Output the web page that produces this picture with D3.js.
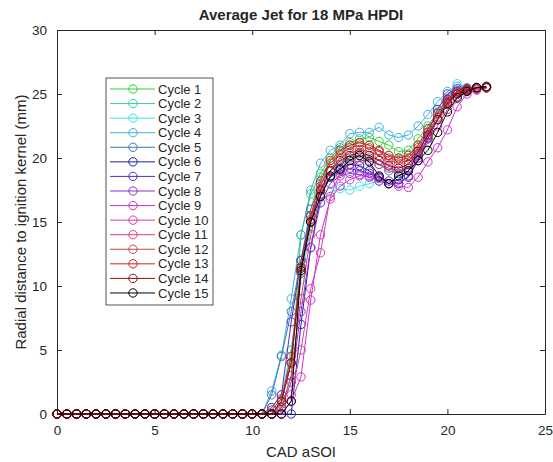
<!DOCTYPE html>
<html lang="en">
  <head>
    <meta charset="utf-8">
    <title>Average Jet for 18 MPa HPDI</title>
    <script src="https://d3js.org/d3.v7.min.js"></script>
    <style>
      body { margin: 0; background: #fff; }
      #chart text { font-family: "Liberation Sans", Arial, sans-serif; fill: #262626; }
    </style>
  </head>
  <body>
    <div id="chart"></div>
    <script>
      "use strict"
      // crank angle after start of injection (CAD aSOI)
      var cad = [0, 0.5, 1, 1.5, 2, 2.5, 3, 3.5, 4, 4.5, 5, 5.5, 6, 6.5, 7, 7.5, 8, 8.5, 9, 9.5,
                 10, 10.5, 11, 11.5, 12, 12.5, 13, 13.5, 14, 14.5, 15, 15.5, 16, 16.5, 17, 17.5,
                 18, 18.5, 19, 19.5, 20, 20.5, 21, 21.5, 22];

      // radial distance (mm) per cycle, one value per cad entry
      var cycle1  = [0,0,0,0,0,0,0,0,0,0,0,0,0,0,0,0,0,0,0,0,0, 0,0,0.5,3,14,17.2,18.8,20,20.8,21.2,21.5,21.6,21.3,21,20.5,20.6,21.5,22.5,23.6,24.6,25.2,25.3,25.4,25.5];
      var cycle2  = [0,0,0,0,0,0,0,0,0,0,0,0,0,0,0,0,0,0,0,0,0, 0,0,0.8,5,11,16,18.5,19.8,20.5,21,21.2,21,20.6,20.2,20,20.3,21,22.2,23.4,24.4,25,25.3,25.4,25.5];
      var cycle3  = [0,0,0,0,0,0,0,0,0,0,0,0,0,0,0,0,0,0,0,0,0, 0,0.5,1.5,5,10.5,14.5,16.5,17.3,17.6,17.5,17.8,18,18.2,18,18.3,19,20.5,22,23.5,24.8,25.8,25.5,25.4,25.5];
      var cycle4  = [0,0,0,0,0,0,0,0,0,0,0,0,0,0,0,0,0,0,0,0,0, 0,1.8,4.6,9,14,17.5,19.6,20.6,21,21.9,22,22,22.4,21.8,21.6,21.8,22.5,23.4,24.4,25.2,25.6,25.5,25.5,25.5];
      var cycle5  = [0,0,0,0,0,0,0,0,0,0,0,0,0,0,0,0,0,0,0,0,0, 0,1.5,4.5,8,12,16,18,19,19.5,20,20.2,20,19.5,19,18.8,19.2,20.2,21.6,23,24.3,25.1,25.4,25.5,25.5];
      var cycle6  = [0,0,0,0,0,0,0,0,0,0,0,0,0,0,0,0,0,0,0,0,0, 0,0,0,0,7,13,17,18.5,19.2,19.5,19.4,19,18.5,18,18,18.5,19.8,21.5,23,24.6,25.2,25.4,25.5,25.5];
      var cycle7  = [0,0,0,0,0,0,0,0,0,0,0,0,0,0,0,0,0,0,0,0,0, 0,0.5,1.5,7.2,12,15.5,17.5,18.5,19,19.2,19,18.8,18.5,18.2,18.3,19,20.3,22,23.8,25,25.4,25.4,25.5,25.5];
      var cycle8  = [0,0,0,0,0,0,0,0,0,0,0,0,0,0,0,0,0,0,0,0,0, 0,0,0.5,2.5,8,13,16.5,18,18.6,18.8,18.7,18.5,18.2,18,18,18.6,20,21.6,23,24.5,25.2,25.4,25.5,25.5];
      var cycle9  = [0,0,0,0,0,0,0,0,0,0,0,0,0,0,0,0,0,0,0,0,0, 0,0,0,1,2.9,8.9,14,16.8,17.8,18.3,18.6,18.6,18.4,18,17.8,17.7,18.5,19.7,20.8,22.2,24,25,25.3,25.5];
      var cycle10 = [0,0,0,0,0,0,0,0,0,0,0,0,0,0,0,0,0,0,0,0,0, 0,0,0.3,1.5,5,9.8,12.6,17,18.8,19.5,19.8,19.8,19.5,19.2,19,19.2,20,21.2,22.5,23.8,24.8,25.2,25.4,25.5];
      var cycle11 = [0,0,0,0,0,0,0,0,0,0,0,0,0,0,0,0,0,0,0,0,0, 0,0,0.5,3,9,14,17.2,19,20,20.4,20.6,20.5,20.2,19.8,19.6,19.8,20.6,21.8,23,24.2,25,25.3,25.4,25.5];
      var cycle12 = [0,0,0,0,0,0,0,0,0,0,0,0,0,0,0,0,0,0,0,0,0, 0,0,1,4,11,15.2,17.8,19.6,20.3,20.8,21,20.8,20.5,20,19.8,20,20.8,22,23.2,24.4,25.1,25.3,25.4,25.5];
      var cycle13 = [0,0,0,0,0,0,0,0,0,0,0,0,0,0,0,0,0,0,0,0,0, 0,0.3,1.2,4.5,11.5,15.5,18.2,19.8,20.6,21,21.2,21,20.6,20.2,20,20.2,21,22.3,23.5,24.6,25.2,25.4,25.5,25.5];
      var cycle14 = [0,0,0,0,0,0,0,0,0,0,0,0,0,0,0,0,0,0,0,0,0, 0,0,1,4,11.4,15,17.5,19,19.8,20.2,20.4,20.2,19.8,19.4,19.2,19.5,20.5,21.8,23,24.3,25,25.3,25.5,25.5];
      var cycle15 = [0,0,0,0,0,0,0,0,0,0,0,0,0,0,0,0,0,0,0,0,0, 0,0,0,1,11.2,15,17,18.6,19.1,19.8,20.2,19.7,18.6,18,18.6,19,19.8,20.6,22,23.6,24.7,25.2,25.5,25.6];

      var nomes = ["Cycle 1", "Cycle 2", "Cycle 3", "Cycle 4", "Cycle 5", "Cycle 6", "Cycle 7", "Cycle 8",
                   "Cycle 9", "Cycle 10", "Cycle 11", "Cycle 12", "Cycle 13", "Cycle 14", "Cycle 15"];
      var cores = ["#2fd12f", "#2fd69a", "#3fe3e3", "#3fb0e0", "#3f78b8", "#1f1fa8", "#5030c8", "#9030d0",
                   "#d030d0", "#d83ca8", "#d84078", "#c84848", "#d82020", "#8a1010", "#000000"];
      var ciclos = [cycle1, cycle2, cycle3, cycle4, cycle5, cycle6, cycle7, cycle8,
                    cycle9, cycle10, cycle11, cycle12, cycle13, cycle14, cycle15];
      var xTicks = [0, 5, 10, 15, 20, 25];
      var yTicks = [0, 5, 10, 15, 20, 25, 30];

      var larguraSVG = 553, alturaSVG = 462;
      var margin = {top: 30, right: 8, bottom: 48, left: 57},
          larguraVis = larguraSVG - margin.left - margin.right,
          alturaVis = alturaSVG - margin.top - margin.bottom;

      var svg = d3.select('#chart').append('svg')
          .attr('width', larguraSVG)
          .attr('height', alturaSVG);
      svg.append('rect').attr('width', larguraSVG).attr('height', alturaSVG).attr('fill', '#fff');

      var grafico = svg.append('g')
          .attr('transform', 'translate(' + margin.left + ',' + margin.top + ')');

      var x = d3.scaleLinear().domain([0, 25]).range([0, larguraVis]);
      var y = d3.scaleLinear().domain([0, 30]).range([alturaVis, 0]);

      // eixos (ticks para dentro, caixa fechada estilo matlab)
      function estilo(g) {
        g.select('.domain').attr('stroke', '#262626');
        g.selectAll('.tick line').attr('stroke', '#262626');
        g.selectAll('.tick text').style('font-size', '13.5px');
      }
      grafico.append('g')
          .attr('transform', 'translate(0,' + alturaVis + ')')
          .call(d3.axisBottom(x).tickValues(xTicks).tickSizeInner(-5).tickSizeOuter(0).tickPadding(11))
          .call(estilo);
      grafico.append('g')
          .call(d3.axisTop(x).tickValues(xTicks).tickSizeInner(-5).tickSizeOuter(0).tickFormat(''))
          .call(estilo);
      grafico.append('g')
          .call(d3.axisLeft(y).tickValues(yTicks).tickSizeInner(-5).tickSizeOuter(0).tickPadding(10))
          .call(estilo);
      grafico.append('g')
          .attr('transform', 'translate(' + larguraVis + ',0)')
          .call(d3.axisRight(y).tickValues(yTicks).tickSizeInner(-5).tickSizeOuter(0).tickFormat(''))
          .call(estilo);

      var linha = d3.line()
          .x((d, i) => x(cad[i]))
          .y(d => y(d));

      ciclos.forEach(function(serie, k) {
        var g = grafico.append('g');
        g.append('path')
            .attr('d', linha(serie))
            .attr('fill', 'none')
            .attr('stroke', cores[k])
            .attr('stroke-width', 1);
        g.selectAll('circle')
            .data(serie)
            .enter().append('circle')
              .attr('cx', (d, i) => x(cad[i]))
              .attr('cy', d => y(d))
              .attr('r', 4.2)
              .attr('fill', 'none')
              .attr('stroke', cores[k])
              .attr('stroke-width', 1);
      });

      // legenda
      var legX = 106 - margin.left, legY = 78 - margin.top, passo = 14.57;
      grafico.append('rect')
          .attr('x', legX).attr('y', legY)
          .attr('width', 107).attr('height', 227)
          .attr('fill', '#fff')
          .attr('stroke', '#262626')
          .attr('stroke-width', 0.8);
      var legenda = grafico.selectAll('.legenda')
          .data(nomes)
        .enter().append('g')
          .attr('class', 'legenda')
          .attr('transform', (d, i) => 'translate(' + legX + ',' + (legY + 11 + i * passo) + ')');
      legenda.append('line')
          .attr('x1', 4).attr('x2', 49)
          .attr('stroke', (d, i) => cores[i]);
      legenda.append('circle')
          .attr('cx', 27).attr('r', 4.2)
          .attr('fill', 'none')
          .attr('stroke', (d, i) => cores[i]);
      legenda.append('text')
          .attr('x', 52).attr('dy', '0.35em')
          .style('font-size', '13px')
          .text(d => d);

      // titulos
      svg.append('text')
          .attr('x', margin.left + larguraVis / 2).attr('y', 20)
          .attr('text-anchor', 'middle')
          .style('font-size', '15px').style('font-weight', 'bold')
          .text('Average Jet for 18 MPa HPDI');
      svg.append('text')
          .attr('x', margin.left + larguraVis / 2).attr('y', 457)
          .attr('text-anchor', 'middle')
          .style('font-size', '15px')
          .text('CAD aSOI');
      svg.append('text')
          .attr('transform', 'translate(26,' + (margin.top + alturaVis / 2) + ') rotate(-90)')
          .attr('text-anchor', 'middle')
          .style('font-size', '15px')
          .text('Radial distance to ignition kernel (mm)');
    </script>
  </body>
</html>
